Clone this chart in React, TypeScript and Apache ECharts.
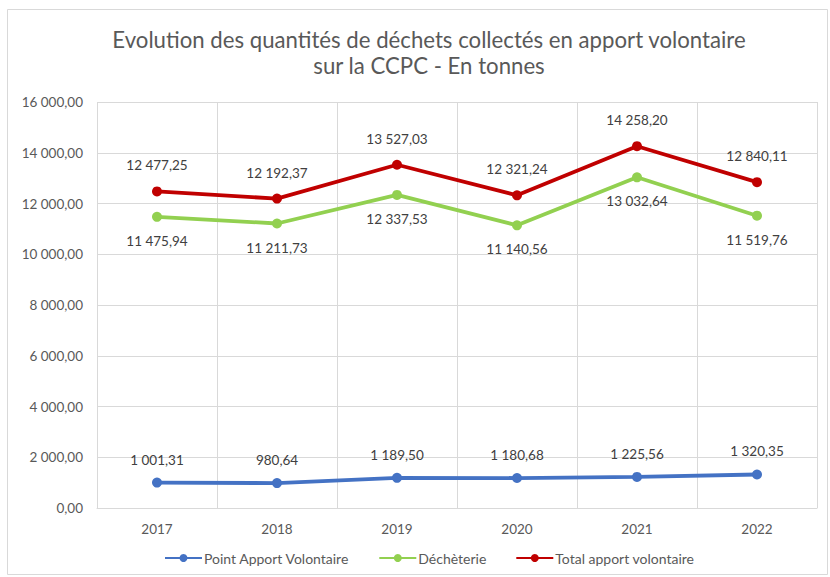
import React, { useEffect, useRef } from "react";
import * as echarts from "echarts";

const categories = ["2017", "2018", "2019", "2020", "2021", "2022"];
const pointApport = [1001.31, 980.64, 1189.5, 1180.68, 1225.56, 1320.35];
const decheterie = [11475.94, 11211.73, 12337.53, 11140.56, 13032.64, 11519.76];
const totalApport = [12477.25, 12192.37, 13527.03, 12321.24, 14258.2, 12840.11];
const seriesNames = ["Point Apport Volontaire", "Déchèterie", "Total apport volontaire"];

const FONT = "Lato, 'Open Sans', sans-serif";

function fmt(v: number): string {
  const fixed = v.toFixed(2);
  const [intPart, dec] = fixed.split(".");
  const withSpaces = intPart.replace(/\B(?=(\d{3})+(?!\d))/g, " ");
  return withSpaces + "," + dec;
}

export default function App() {
  const ref = useRef<HTMLDivElement>(null);
  useEffect(() => {
    document.body.style.margin = "0";
    const chart = echarts.init(ref.current!, undefined, { renderer: "svg" });
    const labelStyle = (pos: string, dist: number) => ({
      show: true,
      position: pos,
      distance: dist,
      color: "#404040",
      fontSize: 13.5,
      fontFamily: FONT,
      formatter: (p: any) => fmt(p.value),
    });
    const mk = (name: string, data: number[], color: string, pos: string, dist: number) => ({
      name,
      type: "line",
      data,
      symbol: "circle",
      symbolSize: 10,
      lineStyle: { width: 3.8, color },
      itemStyle: { color },
      label: labelStyle(pos, dist),
    });
    chart.setOption({
      animation: false,
      backgroundColor: "#ffffff",
      title: {
        text: "Evolution des quantités de déchets collectés en apport volontaire\nsur la CCPC - En tonnes",
        left: 424,
        top: 21,
        textAlign: "center",
        textStyle: {
          color: "#595959",
          fontSize: 22.2,
          fontWeight: "normal",
          fontFamily: FONT,
          lineHeight: 26.5,
        },
      },
      graphic: [
        {
          type: "rect",
          shape: { x: 7.5, y: 9.5, width: 820, height: 565 },
          style: { fill: "none", stroke: "#d9d9d9", lineWidth: 1 },
          silent: true,
        },
      ],
      legend: {
        bottom: 7,
        left: 159,
        itemWidth: 37,
        itemHeight: 10,
        itemGap: 29,
        textStyle: { color: "#595959", fontSize: 14, fontFamily: FONT, padding: [0, 0, 0, -3] },
        data: seriesNames,
      },
      grid: { left: 97, right: 13, top: 102, bottom: 69 },
      xAxis: {
        type: "category",
        data: categories,
        boundaryGap: true,
        axisLine: { lineStyle: { color: "#d9d9d9", width: 1 } },
        axisTick: { show: false },
        axisLabel: { color: "#595959", fontSize: 13.5, fontFamily: FONT, margin: 14 },
        splitLine: { show: true, lineStyle: { color: "#d9d9d9", width: 1 } },
      },
      yAxis: {
        type: "value",
        min: 0,
        max: 16000,
        interval: 2000,
        axisLine: { show: false },
        axisTick: { show: false },
        axisLabel: {
          color: "#595959",
          fontSize: 13.5,
          fontFamily: FONT,
          margin: 14,
          formatter: (v: number) => fmt(v),
        },
        splitLine: { lineStyle: { color: "#d9d9d9", width: 1 } },
      },
      series: [
        mk(seriesNames[0], pointApport, "#4472C4", "top", 11),
        mk(seriesNames[1], decheterie, "#92D050", "bottom", 12),
        mk(seriesNames[2], totalApport, "#C00000", "top", 14),
      ],
    });
    return () => chart.dispose();
  }, []);
  return <div ref={ref} style={{ width: 830, height: 577 }} />;
}
